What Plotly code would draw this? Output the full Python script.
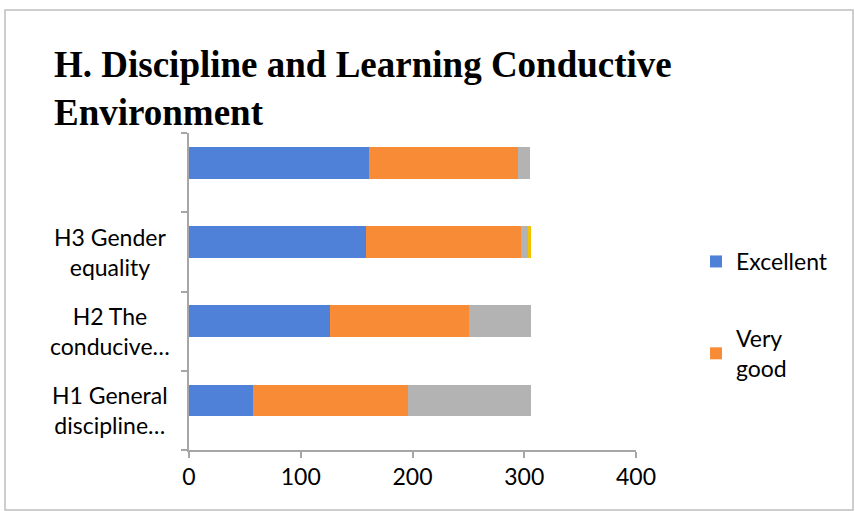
import plotly.graph_objects as go

categories = ["H1 General<br>discipline…", "H2 The<br>conducive…", "H3 Gender<br>equality", " "]
excellent = [57, 126, 158, 161]
very_good = [139, 125, 139, 133]
good = [110, 55, 6, 11]
fair = [0, 0, 3, 0]
x_ticks = [0, 100, 200, 300, 400]

series = [
    ("Excellent", excellent, "#4f81d8", True),
    ("Very<br>good", very_good, "#f78b36", True),
    ("Good", good, "#b3b3b3", False),
    ("Fair", fair, "#f2c200", False),
]

fig = go.Figure()
for i, (name, vals, col, show) in enumerate(series):
    fig.add_trace(go.Bar(
        y=categories, x=vals, name=name, orientation="h",
        marker=dict(color=col, line=dict(width=0)),
        width=0.4, offset=-0.075, showlegend=show,
        legendgroup=f"g{i}",
    ))

# plot area in pixels
L, R, T, B = 189, 636, 133, 450
W, H = R - L, B - T

def px(xp):
    return (xp - L) / W

def py(yp):
    return (B - yp) / H

FONT = "Lato, Carlito, sans-serif"

annotations = []
for c in categories:
    annotations.append(dict(
        x=px(110), y=c, xref="paper", yref="y", text=c, showarrow=False,
        xanchor="center", yanchor="middle", align="center",
        font=dict(family=FONT, size=23, color="#000000"),
    ))

fig.update_layout(
    width=855, height=511,
    margin=dict(l=L, r=855 - R, t=T, b=511 - B),
    paper_bgcolor="white", plot_bgcolor="white",
    barmode="stack",
    title=dict(
        text="<b>H. Discipline and Learning Conductive<br>Environment</b>",
        x=54 / 855, xref="container", xanchor="left",
        y=1 - 77 / 511, yref="container", yanchor="top",
        font=dict(family="Liberation Serif, Times New Roman, serif", size=37, color="#000000"),
    ),
    xaxis=dict(
        range=[0, 400], tickvals=x_ticks, ticktext=[str(v) for v in x_ticks],
        showgrid=False, zeroline=False, showline=True, linecolor="#a6a6a6", linewidth=1.5,
        ticks="outside", ticklen=6, tickcolor="#a6a6a6", tickwidth=1.5,
        tickfont=dict(family=FONT, size=23, color="#000000"),
        fixedrange=True,
    ),
    yaxis=dict(
        type="category", range=[-0.5, 3.5], showticklabels=False,
        showgrid=False, zeroline=False, showline=True, linecolor="#a6a6a6", linewidth=1.5,
        ticks="outside", ticklen=6, tickcolor="#a6a6a6", tickwidth=1.5, tickson="boundaries",
        fixedrange=True,
    ),
    legend=dict(
        x=px(696), y=py(240), xanchor="left", yanchor="top",
        traceorder="grouped", tracegroupgap=44,
        font=dict(family=FONT, size=23, color="#000000"),
        bgcolor="rgba(0,0,0,0)",
    ),
    annotations=annotations,
    shapes=[dict(
        type="rect", xref="paper", yref="paper",
        x0=px(5), x1=px(853), y0=py(510), y1=py(10),
        line=dict(color="#bfbfbf", width=1.5), fillcolor="rgba(0,0,0,0)", layer="below",
    )],
)

fig.write_html("out.html", config={"displayModeBar": False},
               post_script="document.body.style.margin='0';")
